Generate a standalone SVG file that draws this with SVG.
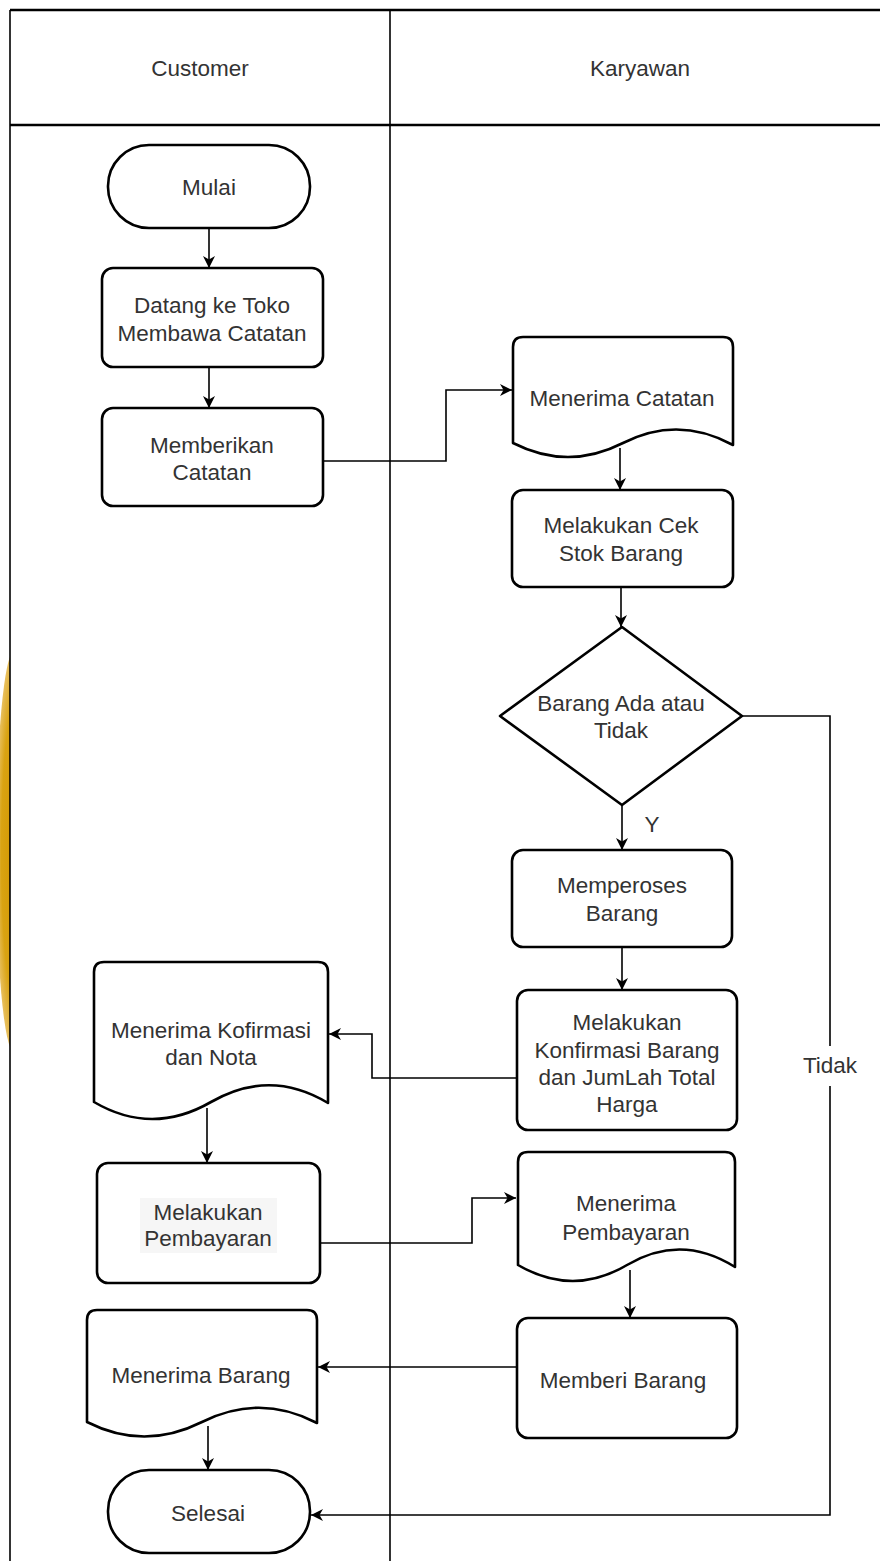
<svg xmlns="http://www.w3.org/2000/svg" width="880" height="1561" viewBox="0 0 880 1561">
<style>
.node{fill:#ffffff;stroke:#000;stroke-width:2.6;stroke-linejoin:round}
.lane{fill:none;stroke:#000;stroke-width:1.6}
.edge{fill:none;stroke:#000;stroke-width:1.6}
.t{font-family:"Liberation Sans",Arial,Helvetica,sans-serif;font-size:22.5px;fill:#333333;text-anchor:middle;dominant-baseline:central}
</style>
<defs>
<radialGradient id="gold" cx="0.5" cy="0.5" r="0.5">
<stop offset="0" stop-color="#D39700"/>
<stop offset="0.7" stop-color="#D9A312"/>
<stop offset="1" stop-color="#E8C060"/>
</radialGradient>
<marker id="arr" markerUnits="userSpaceOnUse" markerWidth="14" markerHeight="14" viewBox="0 0 14 14" refX="13" refY="7" orient="auto">
<path d="M1,1 L13,7 L1,13 L4.5,7 Z" fill="#000"/>
</marker>
</defs>
<rect x="0" y="0" width="880" height="1561" fill="#ffffff"/>
<ellipse cx="14" cy="852" rx="18" ry="200" fill="url(#gold)"/>
<g id="swimlanes">
<rect x="10" y="10" width="880" height="1560" fill="#ffffff"/>
<line class="lane" x1="10" y1="10" x2="880" y2="10" style="stroke-width:2.4"/>
<line class="lane" x1="10" y1="10" x2="10" y2="1561"/>
<line class="lane" x1="10" y1="125" x2="880" y2="125" style="stroke-width:2.6"/>
<line class="lane" x1="390" y1="10" x2="390" y2="1561"/>
<text class="t" x="200" y="68">Customer</text>
<text class="t" x="640" y="68">Karyawan</text>
</g>
<g id="connectors">
<line class="edge" x1="209" y1="228" x2="209" y2="268" marker-end="url(#arr)"/>
<line class="edge" x1="209" y1="367" x2="209" y2="408" marker-end="url(#arr)"/>
<polyline class="edge" points="323,461 446,461 446,390 512,390" marker-end="url(#arr)"/>
<line class="edge" x1="620" y1="448" x2="620" y2="490" marker-end="url(#arr)"/>
<line class="edge" x1="621" y1="587" x2="621" y2="627" marker-end="url(#arr)"/>
<line class="edge" x1="622" y1="805" x2="622" y2="850" marker-end="url(#arr)"/>
<text class="t" x="652" y="824">Y</text>
<line class="edge" x1="622" y1="947" x2="622" y2="990" marker-end="url(#arr)"/>
<polyline class="edge" points="517,1078 372,1078 372,1034 329,1034" marker-end="url(#arr)"/>
<line class="edge" x1="207" y1="1108" x2="207" y2="1163" marker-end="url(#arr)"/>
<polyline class="edge" points="320,1243 472,1243 472,1198 516,1198" marker-end="url(#arr)"/>
<line class="edge" x1="630" y1="1270" x2="630" y2="1318" marker-end="url(#arr)"/>
<line class="edge" x1="517" y1="1367" x2="318" y2="1367" marker-end="url(#arr)"/>
<line class="edge" x1="208" y1="1426" x2="208" y2="1470" marker-end="url(#arr)"/>
<polyline class="edge" points="742,716 830,716 830,1515 311,1515" marker-end="url(#arr)"/>
<rect x="800" y="1046" width="60" height="40" fill="#ffffff"/>
<text class="t" x="830" y="1065">Tidak</text>
</g>
<g id="mulai">
<rect class="node" x="108" y="145" width="202" height="83" rx="41" ry="41"/>
<text class="t" x="209" y="187">Mulai</text>
</g>
<g id="datang">
<rect class="node" x="102" y="268" width="221" height="99" rx="11"/>
<text class="t" x="212" y="305">Datang ke Toko</text>
<text class="t" x="212" y="333">Membawa Catatan</text>
</g>
<g id="memberikan">
<rect class="node" x="102" y="408" width="221" height="98" rx="11"/>
<text class="t" x="212" y="445">Memberikan</text>
<text class="t" x="212" y="472">Catatan</text>
</g>
<g id="menerima-catatan">
<path class="node" d="M513,347 Q513,337 523,337 L723,337 Q733,337 733,347 L733,445 Q678,415 623,443 Q568,471 513,443 Z"/>
<text class="t" x="622" y="398">Menerima Catatan</text>
</g>
<g id="cek-stok">
<rect class="node" x="512" y="490" width="221" height="97" rx="11"/>
<text class="t" x="621" y="525">Melakukan Cek</text>
<text class="t" x="621" y="553">Stok Barang</text>
</g>
<g id="barang-ada">
<polygon class="node" points="622,627 742,716 622,805 500,716"/>
<text class="t" x="621" y="703">Barang Ada atau</text>
<text class="t" x="621" y="730">Tidak</text>
</g>
<g id="memperoses">
<rect class="node" x="512" y="850" width="220" height="97" rx="11"/>
<text class="t" x="622" y="885">Memperoses</text>
<text class="t" x="622" y="913">Barang</text>
</g>
<g id="konfirmasi">
<rect class="node" x="517" y="990" width="220" height="140" rx="11"/>
<text class="t" x="627" y="1022">Melakukan</text>
<text class="t" x="627" y="1050">Konfirmasi Barang</text>
<text class="t" x="627" y="1077">dan JumLah Total</text>
<text class="t" x="627" y="1104">Harga</text>
</g>
<g id="menerima-konfirmasi">
<path class="node" d="M94,972 Q94,962 104,962 L318,962 Q328,962 328,972 L328,1103 Q270,1068 211,1102 Q152,1136 94,1102 Z"/>
<text class="t" x="211" y="1030">Menerima Kofirmasi</text>
<text class="t" x="211" y="1057">dan Nota</text>
</g>
<g id="pembayaran">
<rect class="node" x="97" y="1163" width="223" height="120" rx="11"/>
<rect x="140" y="1198" width="137" height="55" fill="#f6f6f6"/>
<text class="t" x="208" y="1212">Melakukan</text>
<text class="t" x="208" y="1238">Pembayaran</text>
</g>
<g id="menerima-pembayaran">
<path class="node" d="M518,1162 Q518,1152 528,1152 L725,1152 Q735,1152 735,1162 L735,1267 Q681,1233 627,1265 Q573,1297 518,1265 Z"/>
<text class="t" x="626" y="1203">Menerima</text>
<text class="t" x="626" y="1232">Pembayaran</text>
</g>
<g id="memberi-barang">
<rect class="node" x="517" y="1318" width="220" height="120" rx="11"/>
<text class="t" x="623" y="1380">Memberi Barang</text>
</g>
<g id="menerima-barang">
<path class="node" d="M87,1320 Q87,1310 97,1310 L307,1310 Q317,1310 317,1320 L317,1423 Q260,1393 202,1422 Q144,1451 87,1422 Z"/>
<text class="t" x="201" y="1375">Menerima Barang</text>
</g>
<g id="selesai">
<rect class="node" x="108" y="1470" width="202" height="83" rx="41" ry="41"/>
<text class="t" x="208" y="1513">Selesai</text>
</g>
</svg>
